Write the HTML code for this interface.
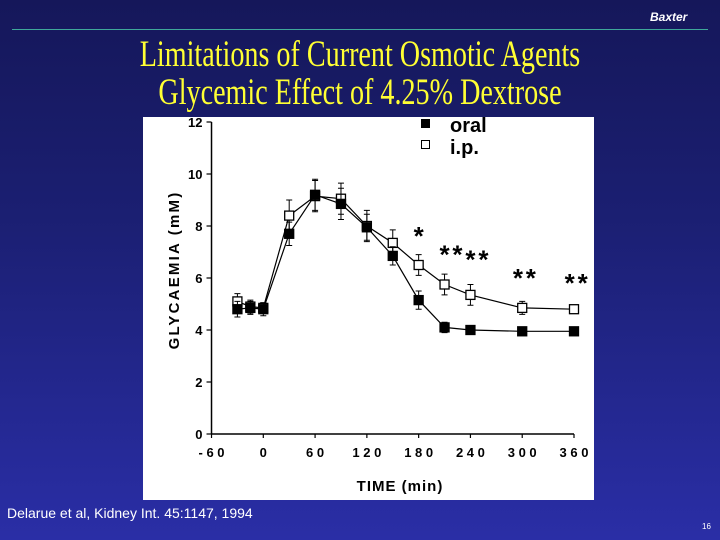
<!DOCTYPE html>
<html><head><meta charset="utf-8">
<style>
html,body{margin:0;padding:0}
body{width:720px;height:540px;overflow:hidden;position:relative;font-family:"Liberation Sans",sans-serif;
background:linear-gradient(180deg,#15175a 0%,#1b1f72 40%,#2a2ea6 100%);}
.t{position:absolute;left:0;width:720px;text-align:center;color:#ffff33;font-family:"Liberation Serif",serif;font-size:37px;transform:scaleX(0.76);letter-spacing:0;line-height:40px}
</style></head><body>
<div style="position:absolute;left:650px;top:10px;color:#fff;font-weight:bold;font-style:italic;font-size:12px;">Baxter</div>
<div style="position:absolute;left:12px;top:29px;width:696px;height:1px;background:#3fa89a"></div>
<div class="t" style="top:35px">Limitations of Current Osmotic Agents</div>
<div class="t" style="top:73px">Glycemic Effect of 4.25% Dextrose</div>
<svg style="position:absolute;left:0;top:0" width="720" height="540">
<rect x="143" y="117" width="451" height="383" fill="#fff"/>
<g id="g" font-family="Liberation Sans, sans-serif" font-weight="bold"></g>
</svg>
<div style="position:absolute;left:7px;top:505px;color:#fff;font-size:14px;">Delarue et al, Kidney Int. 45:1147, 1994</div>
<div style="position:absolute;left:702px;top:522px;color:#fff;font-size:8px;">16</div>
<script>
const times=[-30,-15,0,30,60,90,120,150,180,210,240,300,360];
const oral=[4.8,4.85,4.8,7.7,9.2,8.85,7.95,6.85,5.15,4.1,4.0,3.95,3.95];
const oralErr=[0.3,0.25,0.25,0.45,0.6,0.6,0.5,0.35,0.35,0.2,0.15,0.1,0.1];
const ip=[5.1,4.9,4.85,8.4,9.15,9.05,8.0,7.35,6.5,5.75,5.35,4.85,4.8];
const ipErr=[0.3,0.25,0.2,0.6,0.6,0.6,0.6,0.5,0.4,0.4,0.4,0.25,0.15];
const yTicks=[0,2,4,6,8,10,12];
const xTicks=[-60,0,60,120,180,240,300,360];
const xTickLabels=['- 6 0','0','6 0','1 2 0','1 8 0','2 4 0','3 0 0','3 6 0'];
const starX=[180,210,225,240,255,295,310,355,370];
const starY=[7.8,7.1,7.1,6.9,6.9,6.2,6.2,6.0,6.0];
const X=t=>263.3+(t)*(574-263.3)/360;
const Y=v=>434-v*26;
const g=document.getElementById('g');const NS='http://www.w3.org/2000/svg';
function mk(tag,a,txt){const e=document.createElementNS(NS,tag);for(const k in a)e.setAttribute(k,a[k]);if(txt!==undefined)e.textContent=txt;g.appendChild(e);return e;}
let e;
e=mk('line',{x1:X(-60),y1:Y(0),x2:X(360),y2:Y(0),stroke:'#000','stroke-width':1.5});


e=mk('line',{x1:X(-60),y1:Y(0),x2:X(-60),y2:Y(12),stroke:'#000','stroke-width':1.5});


yTicks.forEach(v=>{
 e=mk('line',{x1:X(-60)-5,y1:Y(v),x2:X(-60),y2:Y(v),stroke:'#000','stroke-width':1.2});
 
 
 e=mk('text',{x:X(-60)-9,y:Y(v)+5,'text-anchor':'end','font-size':13},v);
 
 
});
xTicks.forEach((t,i)=>{
 e=mk('line',{x1:X(t),y1:Y(0),x2:X(t),y2:Y(0)+4,stroke:'#000','stroke-width':1.2});
 
 
 e=mk('text',{x:X(t),y:Y(0)+23,'text-anchor':'middle','font-size':13},xTickLabels[i]);
 
 
});
e=mk('text',{x:400,y:491,'text-anchor':'middle','font-size':15,'letter-spacing':1},'TIME  (min)');


e=mk('text',{x:0,y:0,'text-anchor':'middle','font-size':15,'letter-spacing':2.2,transform:'translate(179,270) rotate(-90)'},'GLYCAEMIA  (mM)');


function series(vals,errs,fill,name){
 const pts=times.map((t,i)=>X(t)+','+Y(vals[i])).join(' ');
 e=mk('polyline',{points:pts,fill:'none',stroke:'#000','stroke-width':1.2});
 
 
 times.forEach((t,i)=>{
  const x=X(t),y1=Y(vals[i]+errs[i]),y2=Y(vals[i]-errs[i]);
  e=mk('path',{d:`M${x},${y1}V${y2}M${x-3},${y1}H${x+3}M${x-3},${y2}H${x+3}`,stroke:'#000','stroke-width':1});
  
  
  e=mk('rect',{x:x-4.5,y:Y(vals[i])-4.5,width:9,height:9,fill:fill,stroke:'#000','stroke-width':1.3});
  
  
 });
}
series(ip,ipErr,'#fff','ip');
series(oral,oralErr,'#000','oral');
starX.forEach((t,i)=>{
 e=mk('text',{x:X(t),y:Y(starY[i])+14,'text-anchor':'middle','font-size':26},'*');
 
 
});
e=mk('rect',{x:421,y:119,width:9,height:9,fill:'#000'});


e=mk('text',{x:450,y:132,'font-size':20},'oral');


e=mk('rect',{x:421.5,y:140.5,width:8,height:8,fill:'#fff',stroke:'#000','stroke-width':1});


e=mk('text',{x:450,y:154,'font-size':20},'i.p.');


</script>
</body></html>
